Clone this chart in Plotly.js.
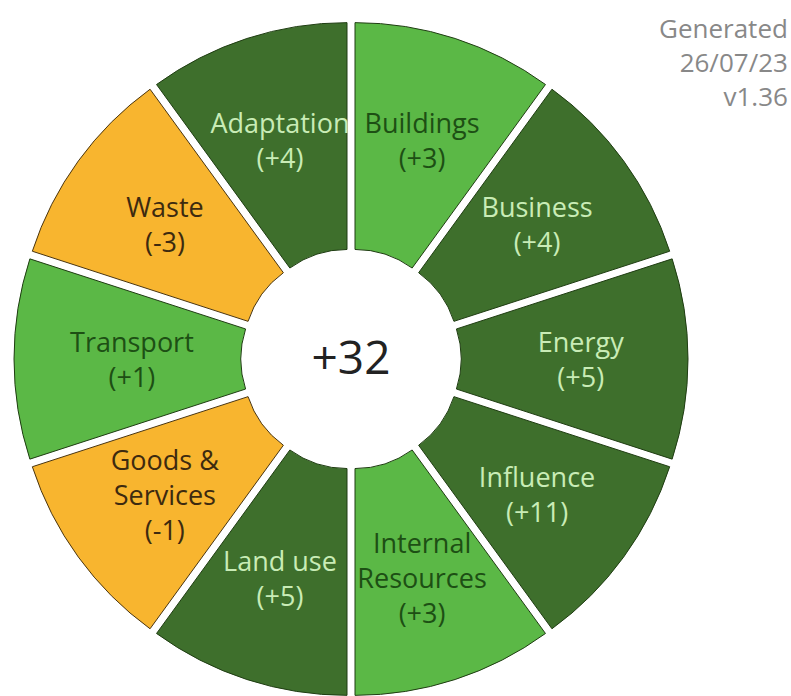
<!DOCTYPE html>
<html>
<head>
<meta charset="utf-8">
<script src="https://cdn.plot.ly/plotly-3.0.1.min.js"></script>
<style>html,body{margin:0;padding:0;background:#fff;}#chart{width:791px;height:696px;}</style>
</head>
<body>
<div id="chart"></div>
<script>
const categories = ["Buildings", "Business", "Energy", "Influence", "Internal<br>Resources", "Land use", "Goods &<br>Services", "Transport", "Waste", "Adaptation"];
const scores = [3, 4, 5, 11, 3, 5, -1, 1, -3, 4];
const status = ["light", "dark", "dark", "dark", "light", "dark", "warn", "light", "warn", "dark"];
const totalLabel = "+32";
const footnote = ["Generated", "26/07/23", "v1.36"];

const fillFor = {light: "#5bb846", dark: "#3e6f2c", warn: "#f8b52f"};
const textFor = {light: "#1d4f14", dark: "#c9ecb6", warn: "#3d2a0f"};
const lineFor = {light: "#1f3d12", dark: "#1f3d12", warn: "#4a3510"};

const texts = categories.map((c, i) => c + "<br>(" + (scores[i] > 0 ? "+" : "") + scores[i] + ")");
const FONT = "Open Sans, sans-serif";
const LABEL_SIZE = 27;

// ring of segments
const ring = {
  type: "pie",
  values: categories.map(() => 1),
  labels: categories,
  textinfo: "none",
  sort: false,
  direction: "clockwise",
  rotation: 0,
  hole: 0.30,
  pull: 0.04,
  marker: {
    colors: status.map(s => fillFor[s]),
    line: {color: status.map(s => lineFor[s]), width: 1}
  },
  title: {text: totalLabel, position: "middle center", font: {family: FONT, size: 46, color: "#222"}},
  domain: {x: [0.0177, 0.8698], y: [0, 0.9684]},
  hoverinfo: "none",
  showlegend: false
};

// transparent twin ring carrying the labels nearer the ring's middle
const labelsRing = {
  type: "pie",
  values: categories.map(() => 1),
  labels: categories,
  text: texts,
  textinfo: "text",
  textposition: "inside",
  insidetextorientation: "horizontal",
  sort: false,
  direction: "clockwise",
  rotation: 0,
  hole: 0.30,
  marker: {colors: categories.map(() => "rgba(0,0,0,0)"), line: {width: 0}},
  insidetextfont: {family: FONT, size: LABEL_SIZE, color: status.map(s => textFor[s])},
  domain: {x: [0.0632, 0.8243], y: [0.0517, 0.9167]},
  hoverinfo: "none",
  showlegend: false
};

const layout = {
  width: 791, height: 696,
  margin: {l: 0, r: 0, t: 0, b: 0},
  paper_bgcolor: "#fff",
  showlegend: false,
  uniformtext: {minsize: LABEL_SIZE, mode: "show"},
  annotations: [{
    xref: "paper", yref: "paper", x: 0.999, y: 0.988, xanchor: "right", yanchor: "top",
    align: "right", showarrow: false,
    text: footnote.join("<br>"),
    font: {family: FONT, size: 26, color: "#888888"}
  }]
};

Plotly.newPlot("chart", [ring, labelsRing], layout, {displayModeBar: false, staticPlot: true});
</script>
</body>
</html>
